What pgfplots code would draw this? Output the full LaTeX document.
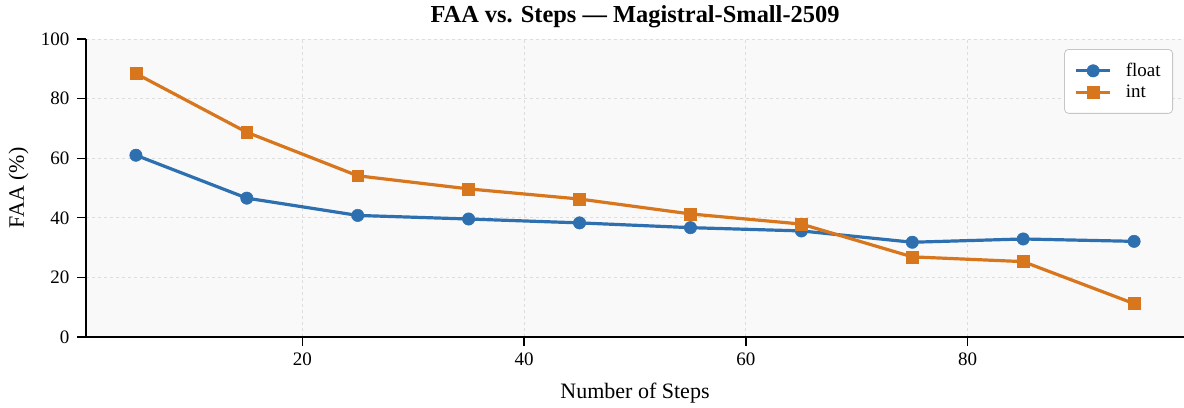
\documentclass[border=0pt]{standalone}
\usepackage{fontspec}
\setmainfont{Liberation Serif}
\usepackage{pgfplots}
\pgfplotsset{compat=1.18}
\usetikzlibrary{calc}
\definecolor{cblue}{HTML}{2E6FB0}
\definecolor{corange}{HTML}{D8761E}
\definecolor{bgc}{HTML}{F9F9F9}
\definecolor{gridc}{HTML}{DDDDDD}
\begin{document}
\begin{tikzpicture}
\begin{axis}[
  name=ax,
  scale only axis,
  width=1098pt, height=298pt,
  xmin=0.5, xmax=99.5, ymin=0, ymax=100,
  axis x line*=bottom, axis y line*=left,
  axis line style={line width=1.5pt, black, -},
  axis background/.style={fill=bgc},
  xtick={20,40,60,80}, ytick={0,20,40,60,80,100},
  tick align=outside, major tick length=9pt,
  tick style={line width=1.3pt, black},
  /pgf/number format/assume math mode=true,
  ticklabel style={font=\fontsize{19}{22}\selectfont},
  yticklabel style={xshift=-4pt},
  xticklabel style={yshift=-3pt},
  grid=major,
  major grid style={dashed, gridc, line width=0.9pt},
  title={FAA vs. Steps — Magistral-Small-2509},
  title style={at={(axis description cs:0.5,1.0336)}, anchor=base, font=\fontsize{24.4}{28}\selectfont\bfseries},
  xlabel={Number of Steps},
  xlabel style={at={(axis description cs:0.5,-0.2047)}, anchor=base, font=\fontsize{22}{26}\selectfont},
  ylabel={FAA (\%)},
  ylabel style={at={(axis description cs:-0.0565,0.5)}, anchor=base, font=\fontsize{22}{26}\selectfont},
  legend style={at={(axis description cs:0.98998,0.96644)}, anchor=north east,
    draw=gray!45, fill=white, rounded corners=4pt, line width=0.8pt,
    font=\fontsize{19}{22}\selectfont, inner xsep=10pt, inner ysep=13pt, row sep=5pt,
    column sep=12pt,
    nodes={inner ysep=1pt}},
  legend cell align=left,
  legend image code/.code={\draw[mark repeat=2,mark phase=2] plot coordinates {(0pt,0pt) (17pt,0pt) (34pt,0pt)};},
]
\addplot[cblue, line width=3.2pt, mark=*, mark size=6.2pt, mark options={solid, fill=cblue, draw=cblue, line width=0.5pt}]
coordinates {(5,61.0) (15,46.6) (25,40.8) (35,39.6) (45,38.3) (55,36.7) (65,35.6) (75,31.8) (85,32.9) (95,32.1)};
\addlegendentry{float}
\addplot[corange, line width=3.2pt, mark=square*, mark size=5.9pt, mark options={solid, fill=corange, draw=corange, line width=0.5pt}]
coordinates {(5,88.4) (15,68.7) (25,54.1) (35,49.7) (45,46.3) (55,41.3) (65,37.9) (75,26.9) (85,25.3) (95,11.2)};
\addlegendentry{int}
\end{axis}
\pgfresetboundingbox
\useasboundingbox ($(ax.south west)+(-86pt,-70pt)$) rectangle ($(ax.north east)+(0pt,39pt)$);
\end{tikzpicture}
\end{document}
